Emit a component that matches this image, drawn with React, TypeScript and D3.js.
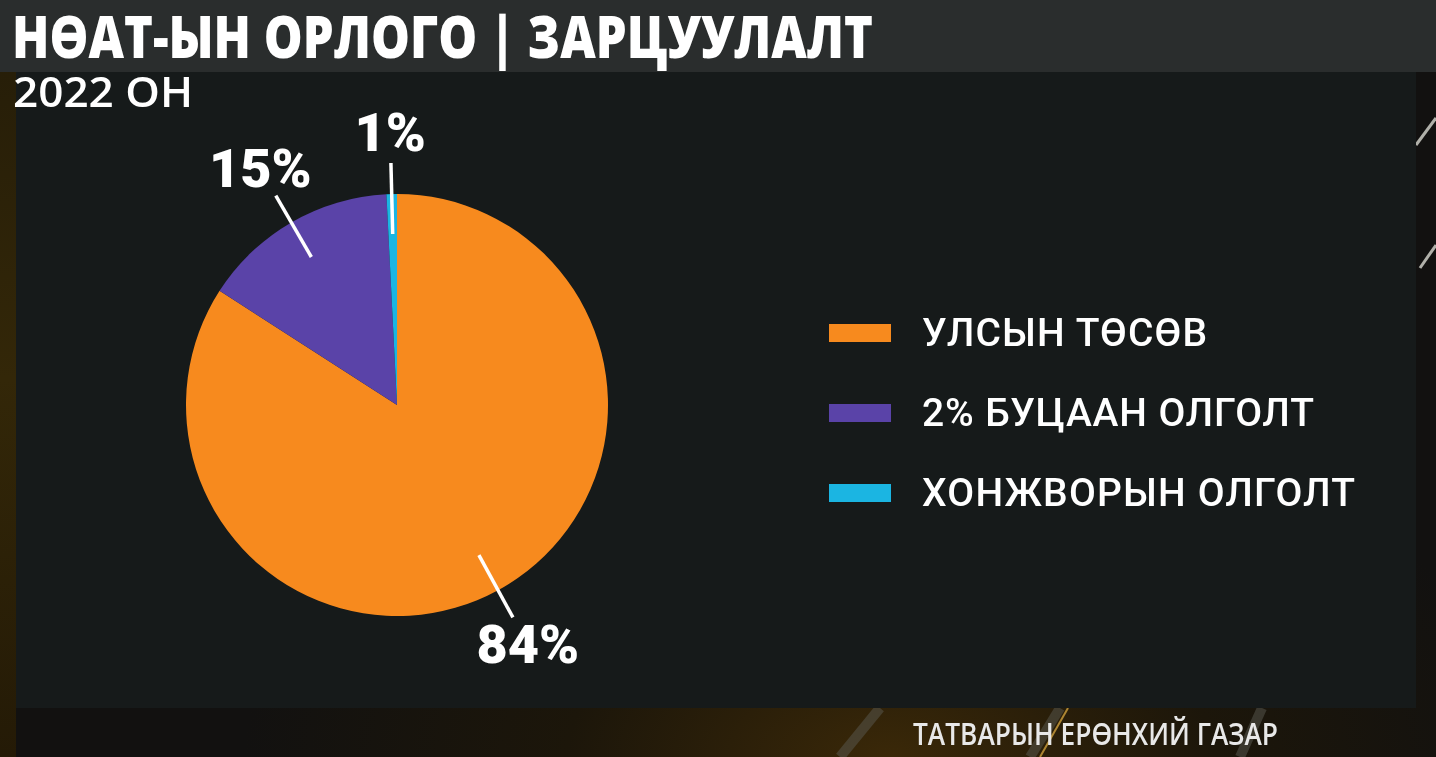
import React from "react";
import * as d3 from "d3";

const categories = ["УЛСЫН ТӨСӨВ", "2% БУЦААН ОЛГОЛТ", "ХОНЖВОРЫН ОЛГОЛТ"];
const values = [84.1, 15.1, 0.8];
const colors = ["#f78a1e", "#5a43a8", "#1bb5e2"];
const legendWidths = [285, 392, 433];

const titleText = "НӨАТ-ЫН ОРЛОГО | ЗАРЦУУЛАЛТ";
const subtitleText = "2022 ОН";
const sourceText = "ТАТВАРЫН ЕРӨНХИЙ ГАЗАР";

const W = 1436;
const H = 757;

export default function App() {
  const cx = 397;
  const cy = 405;
  const R = 211;
  const data = categories.map((c, i) => ({ name: c, value: values[i], color: colors[i] }));
  const pie = d3.pie<any>().sort(null).value((d: any) => d.value).startAngle(0).endAngle(2 * Math.PI);
  const arcs = pie(data);
  const arcGen = d3.arc<any>().innerRadius(0).outerRadius(R);
  const total = d3.sum(values);
  const pt = (a: number, r: number) => [Math.sin(a) * r, -Math.cos(a) * r];

  const legendY = d3.scalePoint<number>().domain([0, 1, 2]).range([333, 493]);

  return (
    <svg
      width={W}
      height={H}
      style={{ position: "fixed", left: 0, top: 0, display: "block" }}
    >
      <defs>
        <radialGradient id="glow" cx="0.62" cy="1" r="0.45">
          <stop offset="0" stopColor="#3a2808" />
          <stop offset="0.5" stopColor="#1c160a" />
          <stop offset="1" stopColor="#121110" />
        </radialGradient>
        <linearGradient id="leftGlow" x1="0" x2="0" y1="0" y2="1">
          <stop offset="0" stopColor="#241c08" />
          <stop offset="0.5" stopColor="#332708" />
          <stop offset="1" stopColor="#241a06" />
        </linearGradient>
      </defs>
      <rect x={0} y={0} width={W} height={H} fill="url(#glow)" />
      <rect x={0} y={0} width={16} height={H} fill="url(#leftGlow)" />
      {/* decorative streaks */}
      <g stroke="#5a5a52" strokeWidth={10} opacity={0.5}>
        <line x1={880} y1={708} x2={840} y2={757} />
        <line x1={1060} y1={708} x2={1030} y2={757} />
        <line x1={1262} y1={708} x2={1240} y2={757} />
      </g>
      <g stroke="#d9a840" strokeWidth={2} opacity={0.75}>
        <line x1={1068} y1={708} x2={1040} y2={757} />
      </g>
      <g stroke="#d8d8d0" strokeWidth={3} opacity={0.8}>
        <line x1={1436} y1={118} x2={1416} y2={145} />
        <line x1={1436} y1={245} x2={1420} y2={268} />
      </g>
      {/* title band */}
      <rect x={0} y={0} width={W} height={72} fill="#2a2d2d" />
      {/* panel */}
      <rect x={16} y={72} width={1400} height={636} fill="#161a1a" />
      <text
        x={12}
        y={58}
        fill="#ffffff"
        fontFamily="'Open Sans', sans-serif"
        fontWeight={800}
        fontSize={58}
        textLength={861}
        lengthAdjust="spacingAndGlyphs"
      >
        {titleText}
      </text>
      <text
        x={13}
        y={107}
        fill="#ffffff"
        fontFamily="'Open Sans', sans-serif"
        fontWeight={600}
        fontSize={42}
        textLength={180}
        lengthAdjust="spacingAndGlyphs"
      >
        {subtitleText}
      </text>
      {/* pie */}
      <g transform={`translate(${cx},${cy})`}>
        {arcs.map((a, i) => (
          <path key={i} d={arcGen(a) as string} fill={a.data.color} />
        ))}
        {arcs.map((a, i) => {
          const mid = (a.startAngle + a.endAngle) / 2;
          const [x1, y1] = pt(mid, 171);
          const [x2, y2] = pt(mid, 242);
          const [tx, ty] = pt(mid, 273);
          return (
            <g key={"l" + i}>
              <line x1={x1} y1={y1} x2={x2} y2={y2} stroke="#ffffff" strokeWidth={3.5} />
              <text
                x={tx}
                y={ty}
                textAnchor="middle"
                dominantBaseline="central"
                fill="#ffffff"
                fontFamily="Roboto, sans-serif"
                fontWeight={900}
                fontSize={54}
              >
                {Math.round((a.data.value / total) * 100)}%
              </text>
            </g>
          );
        })}
      </g>
      {/* legend */}
      {data.map((d, i) => (
        <g key={"lg" + i}>
          <rect x={829} y={(legendY(i) as number) - 9} width={62} height={18} fill={d.color} />
          <text
            x={922}
            y={legendY(i) as number}
            dominantBaseline="central"
            fill="#ffffff"
            fontFamily="Roboto, sans-serif"
            fontWeight={500}
            fontSize={39}
            textLength={legendWidths[i]}
            lengthAdjust="spacing"
          >
            {d.name}
          </text>
        </g>
      ))}
      <text
        x={913}
        y={745}
        fill="#e8e8e8"
        fontFamily="'Open Sans', sans-serif"
        fontWeight={600}
        fontSize={30}
        textLength={365}
        lengthAdjust="spacingAndGlyphs"
      >
        {sourceText}
      </text>
    </svg>
  );
}
